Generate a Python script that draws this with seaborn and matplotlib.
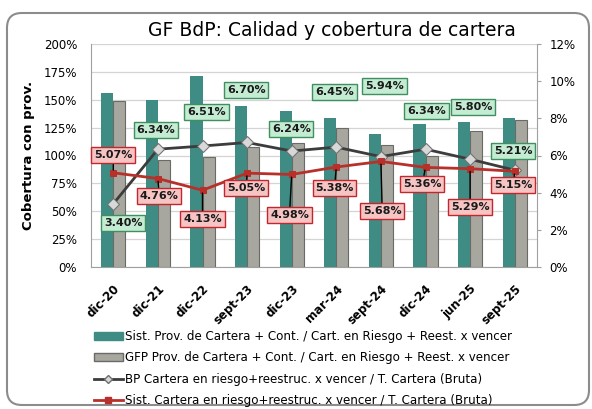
import numpy as np
import pandas as pd
import seaborn as sns
from matplotlib import pyplot as plt
from matplotlib.patches import FancyBboxPatch, Patch
from matplotlib.lines import Line2D
from matplotlib.ticker import FuncFormatter

####### DATA #######
fechas = ['dic-20', 'dic-21', 'dic-22', 'sept-23', 'dic-23', 'mar-24',
          'sept-24', 'dic-24', 'jun-25', 'sept-25']
cob_sist = [156, 150, 171, 144, 140, 134, 119, 128, 130, 134]
cob_gfp = [149, 96, 99, 108, 111, 125, 109, 100, 122, 132]
mora_bp = [3.40, 6.34, 6.51, 6.70, 6.24, 6.45, 5.94, 6.34, 5.80, 5.21]
mora_sist = [5.07, 4.76, 4.13, 5.05, 4.98, 5.38, 5.68, 5.36, 5.29, 5.15]

lbl_sist = 'Sist. Prov. de Cartera + Cont. / Cart. en Riesgo + Reest. x vencer'
lbl_gfp = 'GFP Prov. de Cartera + Cont. / Cart. en Riesgo + Reest. x vencer'
lbl_bp = 'BP Cartera en riesgo+reestruc. x vencer / T. Cartera (Bruta)'
lbl_sist_m = 'Sist. Cartera en riesgo+reestruc. x vencer / T. Cartera (Bruta)'
##### END DATA #####

####### PLOT PARAMS #######
TEAL = '#3f8c84'
GRIS = '#a8a79f'
NEGRO = '#3c3c3c'
ROJO = '#b8302a'
# label box positions (x in category units, y in right-axis %)
pos_bp = [(0.22, 2.37), (0.95, 7.37), (2.09, 8.34), (2.98, 9.53), (3.99, 7.43),
          (4.96, 9.42), (6.08, 9.74), (7.02, 8.40), (8.07, 8.61), (8.97, 6.24)]
pos_sist = [(0.0, 6.03), (1.03, 3.82), (2.0, 2.58), (2.98, 4.25), (3.95, 2.80),
            (4.96, 4.25), (6.03, 3.01), (6.93, 4.47), (8.0, 3.23), (8.97, 4.41)]
##### END PLOT PARAMS #####

plt.rcParams['font.family'] = 'DejaVu Sans'

fig = plt.figure(figsize=(5.92, 4.09), dpi=100)
ax = fig.add_axes([91 / 592, 1 - 267 / 409, 446 / 592, 223 / 409])

df = pd.DataFrame({'Fecha': fechas * 2,
                   'Valor': cob_sist + cob_gfp,
                   'Serie': [lbl_sist] * len(fechas) + [lbl_gfp] * len(fechas)})
sns.barplot(data=df, x='Fecha', y='Valor', hue='Serie', ax=ax,
            palette=[TEAL, GRIS], width=0.54, gap=0, saturation=1,
            legend=False, zorder=3)
for bar in ax.containers[1]:
    bar.set_edgecolor('#6a6a66')
    bar.set_linewidth(0.8)
for bar in ax.containers[0]:
    bar.set_linewidth(0)

ax.set_ylim(0, 200)
ax.set_yticks(np.arange(0, 201, 25))
ax.yaxis.set_major_formatter(FuncFormatter(lambda v, p: f'{v:.0f}%'))
ax.set_xlim(-0.5, len(fechas) - 0.5)
ax.grid(axis='y', color='#d4d4d4', lw=0.9, zorder=0)
ax.set_axisbelow(True)
ax.set_xlabel('')
ax.set_ylabel('Cobertura con prov.', fontsize=9.5, fontweight='bold', labelpad=6)
ax.tick_params(axis='y', length=0, labelsize=8.5, pad=10)
ax.tick_params(axis='x', length=0, labelsize=8.5, pad=11)
for t in ax.get_xticklabels():
    t.set_rotation(45)
    t.set_ha('right')
    t.set_rotation_mode('anchor')
    t.set_fontweight('bold')
for sp in ['top', 'right']:
    ax.spines[sp].set_visible(False)
for sp in ['left', 'bottom']:
    ax.spines[sp].set_color('#a0a0a0')

ax2 = ax.twinx()
x = np.arange(len(fechas))
sns.lineplot(x=x, y=mora_bp, ax=ax2, color=NEGRO, lw=2, marker='D', markersize=6,
             markerfacecolor='#d8d8d8', markeredgecolor='#707070', zorder=5)
sns.lineplot(x=x, y=mora_sist, ax=ax2, color=ROJO, lw=2, marker='s', markersize=5,
             markerfacecolor=ROJO, markeredgecolor=ROJO, zorder=6)
ax2.set_ylim(0, 12)
ax2.set_yticks(np.arange(0, 13, 2))
ax2.yaxis.set_major_formatter(FuncFormatter(lambda v, p: f'{v:.0f}%'))
ax2.tick_params(axis='y', length=3, color='#a0a0a0', labelsize=8.5, pad=6)
for sp in ['top', 'left', 'bottom']:
    ax2.spines[sp].set_visible(False)
ax2.spines['right'].set_color('#a0a0a0')

for i, v in enumerate(mora_bp):
    ax2.annotate(f'{v:.2f}%', xy=(i, v), xytext=pos_bp[i], ha='center', va='center',
                 fontsize=8, fontweight='bold', color='#1a1a1a', zorder=8,
                 bbox=dict(boxstyle='square,pad=0.25', fc='#c4ecd3', ec='#3f8f5f', lw=1))
for i, v in enumerate(mora_sist):
    ax2.annotate(f'{v:.2f}%', xy=(i, v), xytext=pos_sist[i], ha='center', va='center',
                 fontsize=8, fontweight='bold', color='#1a1a1a', zorder=8,
                 bbox=dict(boxstyle='square,pad=0.25', fc='#f7c4c4', ec='#c3272d', lw=1),
                 arrowprops=dict(arrowstyle='-', color='black', lw=1, shrinkA=0, shrinkB=2))

handles = [Patch(fc=TEAL, ec=TEAL), Patch(fc=GRIS, ec='#6a6a66'),
           Line2D([], [], color=NEGRO, lw=2, marker='D', markersize=4,
                  markerfacecolor='#d8d8d8', markeredgecolor='#707070'),
           Line2D([], [], color=ROJO, lw=2, marker='s', markersize=4)]
leg = fig.legend(handles, [lbl_sist, lbl_gfp, lbl_bp, lbl_sist_m], loc='upper left',
                 bbox_to_anchor=(88 / 592, 1 - 324 / 409), frameon=False, fontsize=8.6,
                 handlelength=2.4, handleheight=0.6, handletextpad=0.2,
                 labelspacing=0.7, borderpad=0)

fig.text(332 / 592, 1 - 31 / 409, 'GF BdP: Calidad y cobertura de cartera',
         ha='center', va='center', fontsize=13.5)

frame = FancyBboxPatch((7 / 592, 4 / 409), 582 / 592, 392 / 409,
                       boxstyle='round,pad=0,rounding_size=0.025',
                       mutation_aspect=592 / 409, transform=fig.transFigure,
                       fc='none', ec='#8c8c8c', lw=1.5, zorder=0)
fig.patches.append(frame)

fig.savefig('out.png', dpi=100)
